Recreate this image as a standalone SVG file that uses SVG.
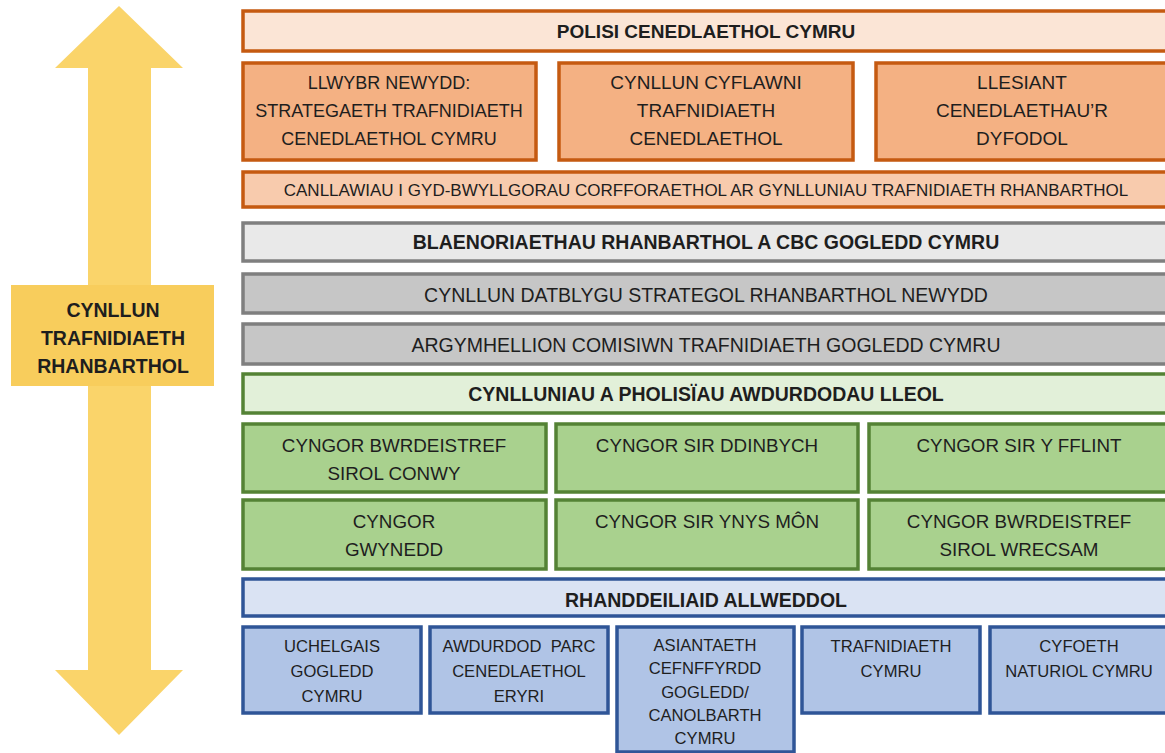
<svg xmlns="http://www.w3.org/2000/svg" width="1165" height="753" viewBox="0 0 1165 753">
<style>
text{font-family:"Liberation Sans",Arial,sans-serif;fill:#1e1e1e;text-anchor:middle}
.b{font-weight:bold}
.o1{fill:#FBE5D6;stroke:#C55A11;stroke-width:3.5}
.o2{fill:#F4B183;stroke:#C55A11;stroke-width:3.5}
.o3{fill:#F8CBAD;stroke:#C55A11;stroke-width:3.5}
.g1{fill:#E9E9E9;stroke:#7F7F7F;stroke-width:3.5}
.g2{fill:#C6C6C6;stroke:#7F7F7F;stroke-width:3.5}
.n1{fill:#E2F0D9;stroke:#548235;stroke-width:3.5}
.n2{fill:#A9D18E;stroke:#548235;stroke-width:3.5}
.u1{fill:#DAE3F3;stroke:#2F5597;stroke-width:3.5}
.u2{fill:#B0C4E6;stroke:#2F5597;stroke-width:3.5}
.t19{font-size:19px}
.t18{font-size:18px}
.tg{font-size:18.8px}
.tb{font-size:19.5px}
.t17{font-size:17px}
.t16{font-size:16.6px}
</style>
<rect width="1165" height="753" fill="#ffffff"/>
<g id="arrow">
<path d="M119,6 L183,68 L151,68 L151,670 L183,670 L119,735 L55,670 L88,670 L88,68 L55,68 Z" fill="#FAD46A"/>
<rect x="11" y="285" width="203" height="101" fill="#F8CD5C"/>
<text class="b" font-size="19.5" x="113" y="317">CYNLLUN</text>
<text class="b" font-size="19.5" x="113" y="345">TRAFNIDIAETH</text>
<text class="b" font-size="19.5" x="113" y="373">RHANBARTHOL</text>
</g>
<g id="polisi">
<rect class="o1" x="243" y="11" width="926" height="40"/>
<text class="b t19" x="706" y="38">POLISI CENEDLAETHOL CYMRU</text>
</g>
<g id="llwybr">
<rect class="o2" x="243" y="63" width="293" height="97"/>
<text class="t18" x="389" y="89">LLWYBR NEWYDD:</text>
<text class="t18" x="389" y="117">STRATEGAETH TRAFNIDIAETH</text>
<text class="t18" x="389" y="145">CENEDLAETHOL CYMRU</text>
</g>
<g id="cynllun-cyflawni">
<rect class="o2" x="559" y="63" width="294" height="97"/>
<text class="t19" x="706" y="89">CYNLLUN CYFLAWNI</text>
<text class="t19" x="706" y="117">TRAFNIDIAETH</text>
<text class="t19" x="706" y="145">CENEDLAETHOL</text>
</g>
<g id="llesiant">
<rect class="o2" x="876" y="63" width="293" height="97"/>
<text class="t19" x="1022" y="89">LLESIANT</text>
<text class="t19" x="1022" y="117">CENEDLAETHAU’R</text>
<text class="t19" x="1022" y="145">DYFODOL</text>
</g>
<g id="canllawiau">
<rect class="o3" x="243" y="172" width="926" height="35"/>
<text class="t17" x="706" y="196">CANLLAWIAU I GYD-BWYLLGORAU CORFFORAETHOL AR GYNLLUNIAU TRAFNIDIAETH RHANBARTHOL</text>
</g>
<g id="blaenoriaethau">
<rect class="g1" x="243" y="223" width="926" height="38"/>
<text class="b tb" x="706" y="249">BLAENORIAETHAU RHANBARTHOL A CBC GOGLEDD CYMRU</text>
</g>
<g id="cynllun-datblygu">
<rect class="g2" x="243" y="274" width="926" height="39"/>
<text class="tb" x="706" y="302">CYNLLUN DATBLYGU STRATEGOL RHANBARTHOL NEWYDD</text>
</g>
<g id="argymhellion">
<rect class="g2" x="243" y="324" width="926" height="40"/>
<text class="tb" x="706" y="352">ARGYMHELLION COMISIWN TRAFNIDIAETH GOGLEDD CYMRU</text>
</g>
<g id="cynlluniau">
<rect class="n1" x="243" y="374" width="926" height="39"/>
<text class="b tb" x="706" y="401">CYNLLUNIAU A PHOLISÏAU AWDURDODAU LLEOL</text>
</g>
<g id="conwy">
<rect class="n2" x="243" y="424" width="303" height="68"/>
<text class="tg" x="394" y="452">CYNGOR BWRDEISTREF</text>
<text class="tg" x="394" y="480">SIROL CONWY</text>
</g>
<g id="ddinbych">
<rect class="n2" x="556" y="424" width="302" height="68"/>
<text class="tg" x="707" y="452">CYNGOR SIR DDINBYCH</text>
</g>
<g id="fflint">
<rect class="n2" x="869" y="424" width="300" height="68"/>
<text class="tg" x="1019" y="452">CYNGOR SIR Y FFLINT</text>
</g>
<g id="gwynedd">
<rect class="n2" x="243" y="500" width="303" height="69"/>
<text class="tg" x="394" y="528">CYNGOR</text>
<text class="tg" x="394" y="556">GWYNEDD</text>
</g>
<g id="ynys-mon">
<rect class="n2" x="556" y="500" width="302" height="69"/>
<text class="tg" x="707" y="528">CYNGOR SIR YNYS MÔN</text>
</g>
<g id="wrecsam">
<rect class="n2" x="869" y="500" width="300" height="69"/>
<text class="tg" x="1019" y="528">CYNGOR BWRDEISTREF</text>
<text class="tg" x="1019" y="556">SIROL WRECSAM</text>
</g>
<g id="rhanddeiliaid">
<rect class="u1" x="243" y="579" width="926" height="37"/>
<text class="b tb" x="706" y="607">RHANDDEILIAID ALLWEDDOL</text>
</g>
<g id="uchelgais">
<rect class="u2" x="243" y="627" width="178" height="86"/>
<text class="t16" x="332" y="652">UCHELGAIS</text>
<text class="t16" x="332" y="677">GOGLEDD</text>
<text class="t16" x="332" y="702">CYMRU</text>
</g>
<g id="awdurdod-parc">
<rect class="u2" x="430" y="627" width="178" height="86"/>
<text class="t16" x="519" y="652" xml:space="preserve">AWDURDOD  PARC</text>
<text class="t16" x="519" y="677">CENEDLAETHOL</text>
<text class="t16" x="519" y="702">ERYRI</text>
</g>
<g id="asiantaeth">
<rect class="u2" x="617" y="627" width="177" height="125"/>
<text class="t16" x="705" y="651">ASIANTAETH</text>
<text class="t16" x="705" y="674">CEFNFFYRDD</text>
<text class="t16" x="705" y="698">GOGLEDD/</text>
<text class="t16" x="705" y="721">CANOLBARTH</text>
<text class="t16" x="705" y="744">CYMRU</text>
</g>
<g id="trafnidiaeth-cymru">
<rect class="u2" x="802" y="627" width="178" height="86"/>
<text class="t16" x="891" y="652">TRAFNIDIAETH</text>
<text class="t16" x="891" y="677">CYMRU</text>
</g>
<g id="cyfoeth">
<rect class="u2" x="990" y="627" width="179" height="86"/>
<text class="t16" x="1079" y="652">CYFOETH</text>
<text class="t16" x="1079" y="677">NATURIOL CYMRU</text>
</g>
<g id="connectors"></g>
</svg>
